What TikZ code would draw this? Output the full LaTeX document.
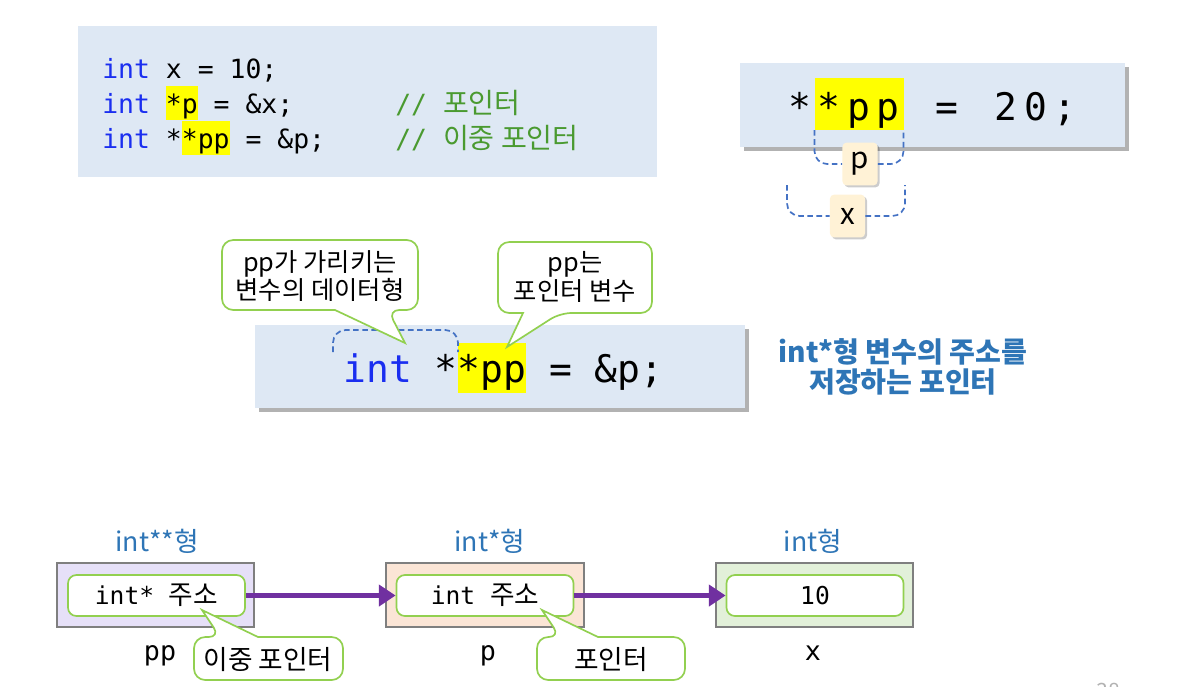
\documentclass[tikz,border=0pt]{standalone}
\usepackage{fontspec}
\setmainfont{Noto Sans CJK KR}
\newfontfamily\krfont{Noto Sans CJK KR}
\newfontfamily\codefont{DejaVu Sans Mono}
\usetikzlibrary{arrows.meta,calc,shadows}

\definecolor{codebg}{HTML}{DEE8F4}
\definecolor{kwblue}{HTML}{1A2EF0}
\definecolor{cmgreen}{HTML}{4A9A30}
\definecolor{hlyellow}{HTML}{FFFF00}
\definecolor{calloutgreen}{HTML}{92D050}
\definecolor{dashblue}{HTML}{4472C4}
\definecolor{labelblue}{HTML}{2E75B6}
\definecolor{ptrpurple}{HTML}{7030A0}
\definecolor{ppfill}{HTML}{E6E0F8}
\definecolor{pfill}{HTML}{FBE5D6}
\definecolor{xfill}{HTML}{E2F0D9}
\definecolor{framegray}{HTML}{7F7F7F}
\definecolor{tagfill}{HTML}{FFF2D6}

\newcommand\hl[3]{{\setlength\fboxsep{0pt}\colorbox{hlyellow}{\rule[-#2]{0pt}{#3}#1}}}
\newcommand\krbig{\krfont\fontsize{20}{22}\selectfont}

\tikzset{
  codeline/.style={anchor=base west, inner sep=0pt, font=\codefont\fontsize{18.8}{22}\selectfont},
  bigcode/.style={inner sep=0pt, font=\codefont\fontsize{27}{30}\selectfont},
  boxshadow/.style={drop shadow={shadow xshift=0.09cm, shadow yshift=-0.09cm, fill=black, opacity=0.3}},
  tagbox/.style={fill=tagfill, rounded corners=3pt, inner sep=0pt, minimum width=0.88cm, minimum height=1.07cm,
    font=\krfont\fontsize{21}{22}\selectfont, drop shadow={shadow xshift=0.05cm, shadow yshift=-0.05cm, fill=black, opacity=0.2}},
  bracket/.style={dashblue, line width=1.2pt, dash pattern=on 4pt off 2.5pt, rounded corners=9pt},
  bubble/.style={draw=calloutgreen, fill=white, line width=1.2pt, rounded corners=8pt},
  bubbletext/.style={align=center, inner sep=0pt, font=\krfont\fontsize{18}{20.5}\selectfont},
  cell/.style={draw=framegray, line width=1.4pt, minimum width=4.925cm, minimum height=1.6cm, inner sep=0pt},
  value/.style={draw=calloutgreen, fill=white, line width=1.2pt, rounded corners=6pt, minimum width=4.425cm,
    minimum height=1.025cm, inner sep=0pt, font=\codefont\fontsize{17.5}{20}\selectfont},
  typelabel/.style={anchor=base, labelblue, inner sep=0pt, font=\krfont\fontsize{19}{20}\selectfont},
  varname/.style={anchor=base, inner sep=0pt, font=\codefont\fontsize{19}{20}\selectfont},
  ptr/.style={ptrpurple, line width=3.8pt, -{Triangle[length=12pt,width=15pt]}}
}

\begin{document}
\begin{tikzpicture}[x=0.025cm,y=-0.025cm]
\useasboundingbox (0,0) rectangle (1188,686);

% declarations
\fill[codebg] (78,26) rectangle (657,177);
\node[codeline] (decl1) at (102,78) {{\color{kwblue}int} x = 10;};
\node[codeline] (decl2) at (102,113) {{\color{kwblue}int} \hl{*p}{5pt}{24.2pt} = \&x;};
\node[codeline] (decl3) at (102,148) {{\color{kwblue}int} *\hl{*pp}{5pt}{24.2pt} = \&p;};
\node[codeline, cmgreen] (cmt2) at (395,113) {// {\krbig 포인터}};
\node[codeline, cmgreen] (cmt3) at (395,148) {// {\krbig 이중 포인터}};

% **pp = 20;
\node[fill=codebg, boxshadow, minimum width=9.625cm, minimum height=2.1cm, inner sep=0pt] (derefbox) at (932.5,105) {};
\fill[hlyellow] (814.5,78) rectangle (903.5,130);
\foreach \i/\ch in {0/*,1/*,2/p,3/p,5/=,7/2,8/0,9/;}
  \node[bigcode, anchor=base] (d\i) at (799.5+29.5*\i,120) {\ch};
\node[tagbox] (tagp) at (860,164) {p};
\node[tagbox] (tagx) at (847.5,216) {x};
\draw[bracket] (814.5,130) |- (tagp.west);
\draw[bracket] (tagp.east) -| (903.5,130);
\draw[bracket] (787,185) |- (tagx.west);
\draw[bracket] (tagx.east) -| (905,185);

% int **pp = &p;
\node[fill=codebg, boxshadow, minimum width=12.25cm, minimum height=2.075cm, inner sep=0pt] (mainbox) at (500,366.5) {};
\node[bigcode, anchor=base west] (mainline) at (343,382) {{\color{kwblue}int} *\hl{*pp}{7.8pt}{35.5pt} = \&p;};
\draw[bracket] (333,352) -- (333,330) -- (458,330) -- (458,352);

\draw[bubble] (222,240) -- (418,240) -- (418,310) -- (388,310) [sharp corners] -- (405,343) -- (335,310) [rounded corners=8pt] -- (222,310) -- cycle;
\node[bubbletext] (dtype) at (320,276) {pp가 가리키는\\변수의 데이터형};
\draw[bubble] (498,242) -- (652,242) -- (652,313) -- (560,313) [sharp corners] -- (507,347) -- (523,313) [rounded corners=8pt] -- (498,313) -- cycle;
\node[bubbletext] (ptrvar) at (575,277) {pp는\\포인터 변수};

\node[align=center, labelblue, inner sep=0pt, font=\krfont\bfseries\fontsize{20}{21.5}\selectfont] (note) at (903,367) {int*형 변수의 주소를\\저장하는 포인터};

% memory cells
\node[cell, fill=ppfill] (ppcell) at (155.5,595) {};
\node[value] (ppval) at (156.5,595.5) {int* {\krfont\fontsize{19}{20}\selectfont 주소}};
\node[cell, fill=pfill] (pcell) at (485,595) {};
\node[value] (pval) at (485,595.5) {int {\krfont\fontsize{19}{20}\selectfont 주소}};
\node[cell, fill=xfill] (xcell) at (814.5,595) {};
\node[value] (xval) at (815,595.5) {10};

\node[typelabel] (pptype) at (157,551) {int**형};
\node[typelabel] (ptype) at (490,551) {int*형};
\node[typelabel] (xtype) at (813,551) {int형};
\node[varname] (ppname) at (160,660) {pp};
\node[varname] (pname) at (488,660) {p};
\node[varname] (xname) at (813,660) {x};

\draw[ptr] (ppval.east) -- (pval.west);
\draw[ptr] (pval.east) -- (xval.west);

\draw[bubble] (194,637) -- (220,637) [sharp corners] -- (202,610) -- (258,637) [rounded corners=8pt] -- (343,637) -- (343,680) -- (194,680) -- cycle;
\node[bubbletext, font=\krfont\fontsize{19}{20}\selectfont] (dblptr) at (268,659) {이중 포인터};
\draw[bubble] (537,637) -- (560,637) [sharp corners] -- (542,610) -- (598,637) [rounded corners=8pt] -- (685,637) -- (685,680) -- (537,680) -- cycle;
\node[bubbletext, font=\krfont\fontsize{19}{20}\selectfont] (ptrnote) at (611,659) {포인터};

\node[text=gray!60, inner sep=0pt, font=\fontsize{15}{15}\selectfont] (pageno) at (1108,691) {38};
\end{tikzpicture}
\end{document}
